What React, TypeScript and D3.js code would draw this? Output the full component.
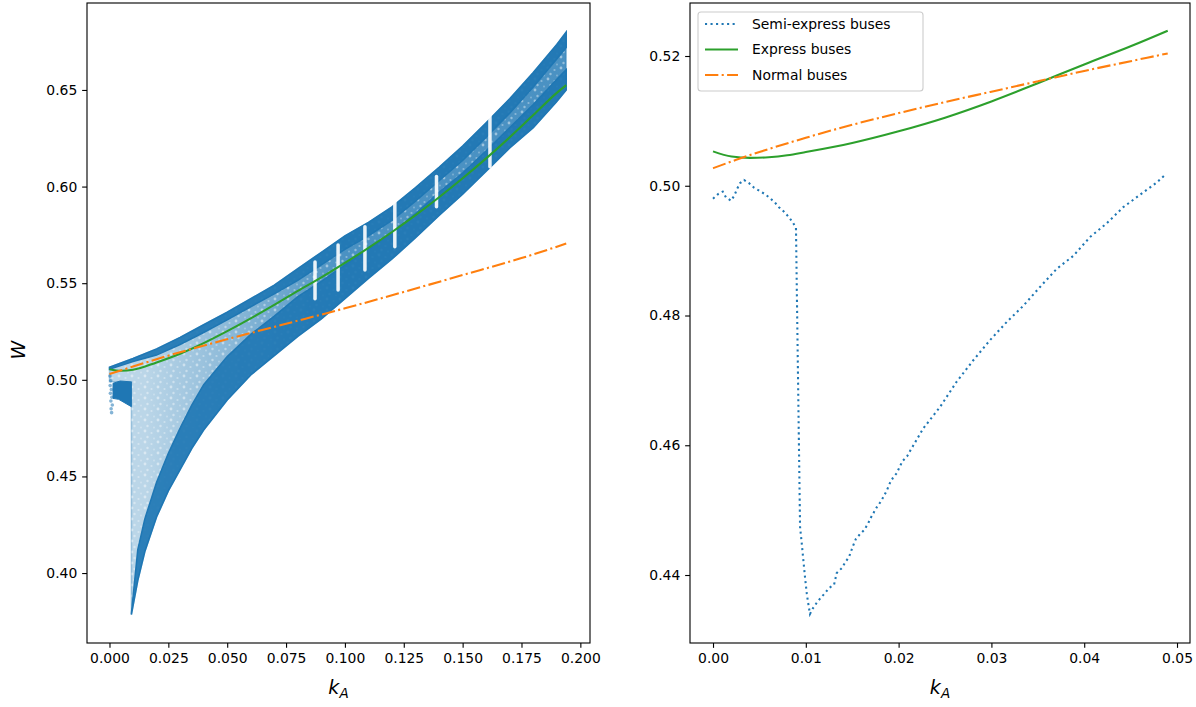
import React, { useEffect, useRef } from "react";
import * as d3 from "d3";

const WIDTH = 1196;
const HEIGHT = 707;
const C0 = "#1f77b4";
const C1 = "#ff7f0e";
const C2 = "#2ca02c";
const FONT = "'DejaVu Sans', sans-serif";

// ---------- Left panel: semi-express scatter cloud (envelopes) ----------
const cloudUpperK = [0, 0.01, 0.02, 0.03, 0.04, 0.05, 0.06, 0.07, 0.08, 0.09, 0.1, 0.11, 0.12, 0.13, 0.14, 0.15, 0.16, 0.17, 0.18, 0.19, 0.194];
const cloudUpperW = [0.5065, 0.511, 0.516, 0.522, 0.5285, 0.535, 0.542, 0.549, 0.5575, 0.566, 0.5745, 0.5815, 0.5895, 0.5995, 0.61, 0.621, 0.633, 0.6455, 0.659, 0.6735, 0.68];
const denseUpperBottomW = [0.5055, 0.5095, 0.5128, 0.5183, 0.5245, 0.531, 0.5378, 0.5445, 0.5515, 0.5595, 0.5675, 0.5745, 0.5825, 0.5925, 0.603, 0.6135, 0.6255, 0.638, 0.6515, 0.666, 0.672];

const cloudLowerK = [0, 0.0093, 0.0093, 0.012, 0.015, 0.02, 0.025, 0.03, 0.035, 0.04, 0.05, 0.06, 0.07, 0.08, 0.09, 0.1, 0.11, 0.12, 0.13, 0.14, 0.15, 0.16, 0.17, 0.18, 0.19, 0.194];
const cloudLowerW = [0.499, 0.499, 0.3785, 0.396, 0.411, 0.429, 0.4425, 0.4535, 0.4645, 0.474, 0.4895, 0.5025, 0.5125, 0.5225, 0.5315, 0.542, 0.5525, 0.5625, 0.5735, 0.585, 0.596, 0.608, 0.62, 0.6305, 0.644, 0.65];
// top edge of the dense band that hugs the lower envelope (from index 2 of cloudLowerK)
const denseLowerTopW = [0.379, 0.412, 0.428, 0.447, 0.462, 0.475, 0.487, 0.4975, 0.512, 0.5235, 0.533, 0.543, 0.551, 0.5595, 0.5675, 0.576, 0.586, 0.597, 0.607, 0.6185, 0.6305, 0.6425, 0.6555, 0.6605];

// white vertical gaps inside the band
const gapK = [0.0873, 0.0971, 0.1085, 0.1212, 0.1389, 0.1616];
const gapTopW = [0.561, 0.5698, 0.5792, 0.5922, 0.6052, 0.6362];
const gapBottomW = [0.542, 0.5465, 0.5568, 0.5689, 0.5896, 0.6103];

// solid block near k = 0.003..0.009
const flagK = [0.0015, 0.0046, 0.0093, 0.0093, 0.0039, 0.0015];
const flagW = [0.4982, 0.4994, 0.4989, 0.4861, 0.4899, 0.4904];

// scattered points at k ~ 0
const colK = [0.0002, 0.0005, 0.0003, 0.0008, 0.0004, 0.001, 0.0006, 0.0012, 0.0007, 0.0009];
const colW = [0.502, 0.4995, 0.497, 0.495, 0.493, 0.491, 0.489, 0.487, 0.485, 0.483];

// Left panel lines
const expressLK = [0, 0.005, 0.01, 0.02, 0.03, 0.04, 0.05, 0.06, 0.07, 0.08, 0.09, 0.1, 0.11, 0.12, 0.13, 0.14, 0.15, 0.16, 0.17, 0.18, 0.19, 0.194];
const expressLW = [0.5055, 0.5047, 0.5052, 0.509, 0.5135, 0.519, 0.5252, 0.5318, 0.5388, 0.546, 0.553, 0.5605, 0.5683, 0.5765, 0.5852, 0.5945, 0.6043, 0.6146, 0.6255, 0.637, 0.6485, 0.6525];
const normalLK = [0, 0.025, 0.05, 0.075, 0.1, 0.125, 0.15, 0.175, 0.194];
const normalLW = [0.503, 0.5125, 0.521, 0.529, 0.537, 0.5455, 0.5542, 0.563, 0.5705];

// ---------- Right panel ----------
const semiK = [0, 0.00054, 0.00105, 0.0014, 0.00194, 0.0023, 0.00259, 0.00291, 0.00334, 0.00388, 0.00442, 0.00503, 0.0056, 0.00614, 0.00668, 0.0071, 0.00765, 0.00815, 0.00858, 0.00894, 0.00938, 0.00956, 0.0097, 0.00991, 0.0101, 0.01024, 0.01045, 0.01078, 0.01117, 0.01161, 0.01207, 0.0125, 0.01304, 0.01333, 0.0139, 0.01422, 0.01466, 0.01509, 0.01541, 0.01584, 0.01627, 0.0167, 0.01699, 0.01735, 0.01767, 0.01807, 0.01843, 0.01875, 0.01907, 0.0194, 0.0198, 0.02012, 0.02044, 0.02091, 0.02123, 0.02266, 0.02446, 0.02626, 0.02805, 0.02985, 0.03165, 0.03344, 0.03524, 0.03704, 0.03883, 0.04063, 0.04242, 0.04421, 0.04601, 0.04781, 0.04881];
const semiW = [0.498, 0.4987, 0.4991, 0.4982, 0.4977, 0.4985, 0.4995, 0.5004, 0.5009, 0.5004, 0.4997, 0.4992, 0.4987, 0.4981, 0.4974, 0.4967, 0.496, 0.4952, 0.4944, 0.4935, 0.4474, 0.4449, 0.4428, 0.4397, 0.4372, 0.4358, 0.434, 0.4349, 0.4357, 0.4365, 0.4372, 0.438, 0.4385, 0.4403, 0.4411, 0.4419, 0.4428, 0.4445, 0.4456, 0.4463, 0.4469, 0.4479, 0.4488, 0.4497, 0.4505, 0.4513, 0.4522, 0.4531, 0.4542, 0.455, 0.4557, 0.4567, 0.4576, 0.4583, 0.4591, 0.4626, 0.4659, 0.4698, 0.4731, 0.4762, 0.479, 0.4815, 0.4844, 0.4872, 0.4892, 0.4921, 0.4942, 0.4967, 0.4986, 0.5005, 0.5018];
const expressRK = [0, 0.002, 0.004, 0.006, 0.008, 0.01, 0.015, 0.02, 0.025, 0.03, 0.035, 0.04, 0.045, 0.049];
const expressRW = [0.5053, 0.5045, 0.5043, 0.5044, 0.5047, 0.5052, 0.5066, 0.5084, 0.5105, 0.513, 0.5158, 0.5187, 0.5215, 0.5239];
const normalRK = [0, 0.0025, 0.005, 0.01, 0.015, 0.02, 0.025, 0.03, 0.035, 0.04, 0.045, 0.049];
const normalRW = [0.5027, 0.504, 0.5052, 0.5074, 0.5094, 0.5112, 0.5129, 0.5145, 0.5161, 0.5177, 0.5192, 0.5204];

// ticks
const leftXTicks = [0, 0.025, 0.05, 0.075, 0.1, 0.125, 0.15, 0.175, 0.2];
const leftYTicks = [0.4, 0.45, 0.5, 0.55, 0.6, 0.65];
const rightXTicks = [0, 0.01, 0.02, 0.03, 0.04, 0.05];
const rightYTicks = [0.44, 0.46, 0.48, 0.5, 0.52];

const legendLabels = ["Semi-express buses", "Express buses", "Normal buses"];

// layout
const L = { x0: 87, x1: 590, y0: 3, y1: 643 };
const R = { x0: 690, x1: 1190, y0: 3, y1: 643 };

const xL = d3.scaleLinear().domain([-0.00955, 0.2041]).range([L.x0, L.x1]);
const yL = d3.scaleLinear().domain([0.3638, 0.695]).range([L.y1, L.y0]);
const xR = d3.scaleLinear().domain([-0.00248, 0.0514]).range([R.x0, R.x1]);
const yR = d3.scaleLinear().domain([0.42952, 0.52817]).range([R.y1, R.y0]);

const PT = 100 / 72;
const LW = 1.5 * PT;
const DOT = `${1.5 * PT} ${2.475 * PT}`;
const DASHDOT = `${9.6 * PT} ${2.4 * PT} ${1.5 * PT} ${2.4 * PT}`;

function zip(ks: number[], ws: number[]): [number, number][] {
  return ks.map((k, i) => [k, ws[i]]);
}

function styleAxis(g: any) {
  g.select(".domain").remove();
  g.attr("font-family", FONT).attr("font-size", 13.9);
  g.selectAll(".tick line").attr("stroke", "#000").attr("stroke-width", 0.8 * PT);
  g.selectAll(".tick text").attr("fill", "#000");
}

export default function App() {
  const lx = useRef<SVGGElement>(null);
  const ly = useRef<SVGGElement>(null);
  const rx = useRef<SVGGElement>(null);
  const ry = useRef<SVGGElement>(null);

  useEffect(() => {
    const ts = 3.5 * PT;
    d3.select(lx.current).call(
      d3.axisBottom(xL).tickValues(leftXTicks).tickFormat(d3.format(".3f")).tickSize(ts).tickPadding(ts).tickSizeOuter(0)
    ).call(styleAxis);
    d3.select(ly.current).call(
      d3.axisLeft(yL).tickValues(leftYTicks).tickFormat(d3.format(".2f")).tickSize(ts).tickPadding(ts).tickSizeOuter(0)
    ).call(styleAxis);
    d3.select(rx.current).call(
      d3.axisBottom(xR).tickValues(rightXTicks).tickFormat(d3.format(".2f")).tickSize(ts).tickPadding(ts).tickSizeOuter(0)
    ).call(styleAxis);
    d3.select(ry.current).call(
      d3.axisLeft(yR).tickValues(rightYTicks).tickFormat(d3.format(".2f")).tickSize(ts).tickPadding(ts).tickSizeOuter(0)
    ).call(styleAxis);
  }, []);

  const lineL = d3.line<[number, number]>().x((d) => xL(d[0])).y((d) => yL(d[1]));
  const lineR = d3.line<[number, number]>().x((d) => xR(d[0])).y((d) => yR(d[1]));
  const curveL = d3.line<[number, number]>().x((d) => xL(d[0])).y((d) => yL(d[1])).curve(d3.curveMonotoneX);
  const curveR = d3.line<[number, number]>().x((d) => xR(d[0])).y((d) => yR(d[1])).curve(d3.curveMonotoneX);

  const upper = zip(cloudUpperK, cloudUpperW);
  const lower = zip(cloudLowerK, cloudLowerW);
  const cloudPoly = lineL([...upper, ...lower.slice().reverse()]) + "Z";

  const lowerDenseK = cloudLowerK.slice(2);
  const lowerDenseBottom = zip(lowerDenseK, cloudLowerW.slice(2));
  const lowerDenseTop = zip(lowerDenseK, denseLowerTopW);
  const lowerDensePoly = lineL([...lowerDenseBottom, ...lowerDenseTop.slice().reverse()]) + "Z";

  const upperDenseBottom = zip(cloudUpperK, denseUpperBottomW);
  const upperDensePoly = lineL([...upper, ...upperDenseBottom.slice().reverse()]) + "Z";

  const flagPoly = lineL(zip(flagK, flagW)) + "Z";

  const legendItems = [
    { label: legendLabels[0], color: C0, dash: DOT },
    { label: legendLabels[1], color: C2, dash: "" },
    { label: legendLabels[2], color: C1, dash: DASHDOT },
  ];

  return (
    <svg
      width={WIDTH}
      height={HEIGHT}
      style={{ position: "absolute", left: 0, top: 0, background: "#fff" }}
      fontFamily={FONT}
    >
      <rect x={0} y={0} width={WIDTH} height={HEIGHT} fill="#fff" />
      <defs>
        <clipPath id="clipL">
          <rect x={L.x0} y={L.y0} width={L.x1 - L.x0} height={L.y1 - L.y0} />
        </clipPath>
        <clipPath id="clipR">
          <rect x={R.x0} y={R.y0} width={R.x1 - R.x0} height={R.y1 - R.y0} />
        </clipPath>
        <linearGradient id="midGrad" gradientUnits="userSpaceOnUse" x1={xL(0.015)} x2={xL(0.1)} y1={0} y2={0}>
          <stop offset="0" stopColor={C0} stopOpacity={0} />
          <stop offset="1" stopColor={C0} stopOpacity={0.72} />
        </linearGradient>
        <pattern id="speck" width={13} height={11} patternUnits="userSpaceOnUse">
          <circle cx={2} cy={2} r={1.4} fill="#fff" fillOpacity={0.45} />
          <circle cx={8.5} cy={4} r={1.1} fill="#fff" fillOpacity={0.35} />
          <circle cx={4.5} cy={8} r={1.2} fill="#fff" fillOpacity={0.4} />
          <circle cx={11} cy={9.5} r={0.9} fill="#fff" fillOpacity={0.3} />
        </pattern>
      </defs>

      {/* LEFT PANEL */}
      <g clipPath="url(#clipL)">
        <path d={cloudPoly} fill={C0} fillOpacity={0.3} stroke={C0} strokeOpacity={0.35} strokeWidth={1.5} />
        <path d={cloudPoly} fill="url(#midGrad)" />
        <path d={cloudPoly} fill="url(#speck)" />
        <path d={lowerDensePoly} fill={C0} fillOpacity={0.92} stroke={C0} strokeWidth={1.5} />
        <path d={upperDensePoly} fill={C0} fillOpacity={0.92} stroke={C0} strokeWidth={1.5} />
        <path d={flagPoly} fill={C0} stroke={C0} strokeWidth={1} />
        {colK.map((k, i) => (
          <circle key={i} cx={xL(k)} cy={yL(colW[i])} r={1.8} fill={C0} fillOpacity={0.55} />
        ))}
        {gapK.map((k, i) => (
          <line
            key={i}
            x1={xL(k)}
            x2={xL(k)}
            y1={yL(gapTopW[i])}
            y2={yL(gapBottomW[i])}
            stroke="#fff"
            strokeOpacity={0.9}
            strokeWidth={3.5}
            strokeLinecap="round"
          />
        ))}
        <path d={curveL(zip(expressLK, expressLW)) || ""} fill="none" stroke={C2} strokeWidth={LW} />
        <path d={curveL(zip(normalLK, normalLW)) || ""} fill="none" stroke={C1} strokeWidth={LW} strokeDasharray={DASHDOT} />
      </g>
      <rect x={L.x0} y={L.y0} width={L.x1 - L.x0} height={L.y1 - L.y0} fill="none" stroke="#000" strokeWidth={0.8 * PT} />
      <g ref={lx} transform={`translate(0,${L.y1})`} />
      <g ref={ly} transform={`translate(${L.x0},0)`} />
      <text x={(L.x0 + L.x1) / 2} y={694} textAnchor="middle" fontSize={19} fontStyle="italic">
        k<tspan fontSize={13.5} dy={4}>A</tspan>
      </text>
      <text
        transform={`translate(25,350) rotate(-90)`}
        textAnchor="middle"
        fontSize={19}
        fontStyle="italic"
      >
        W
      </text>

      {/* RIGHT PANEL */}
      <g clipPath="url(#clipR)">
        <path d={lineR(zip(semiK, semiW)) || ""} fill="none" stroke={C0} strokeWidth={LW} strokeDasharray={DOT} />
        <path d={curveR(zip(expressRK, expressRW)) || ""} fill="none" stroke={C2} strokeWidth={LW} />
        <path d={curveR(zip(normalRK, normalRW)) || ""} fill="none" stroke={C1} strokeWidth={LW} strokeDasharray={DASHDOT} />
      </g>
      <rect x={R.x0} y={R.y0} width={R.x1 - R.x0} height={R.y1 - R.y0} fill="none" stroke="#000" strokeWidth={0.8 * PT} />
      <g ref={rx} transform={`translate(0,${R.y1})`} />
      <g ref={ry} transform={`translate(${R.x0},0)`} />
      <text x={(R.x0 + R.x1) / 2} y={694} textAnchor="middle" fontSize={19} fontStyle="italic">
        k<tspan fontSize={13.5} dy={4}>A</tspan>
      </text>

      {/* legend */}
      <g>
        <rect x={698} y={12} width={225} height={79} rx={3} fill="#fff" fillOpacity={0.8} stroke="#cccccc" strokeWidth={1.1} />
        {legendItems.map((it, i) => (
          <g key={i} transform={`translate(0,${24 + i * 25.5})`}>
            <line x1={705} x2={738} y1={0} y2={0} stroke={it.color} strokeWidth={LW} strokeDasharray={it.dash || undefined} />
            <text x={752} y={0} dy="0.35em" fontSize={13.9} fill="#000">
              {it.label}
            </text>
          </g>
        ))}
      </g>
    </svg>
  );
}
